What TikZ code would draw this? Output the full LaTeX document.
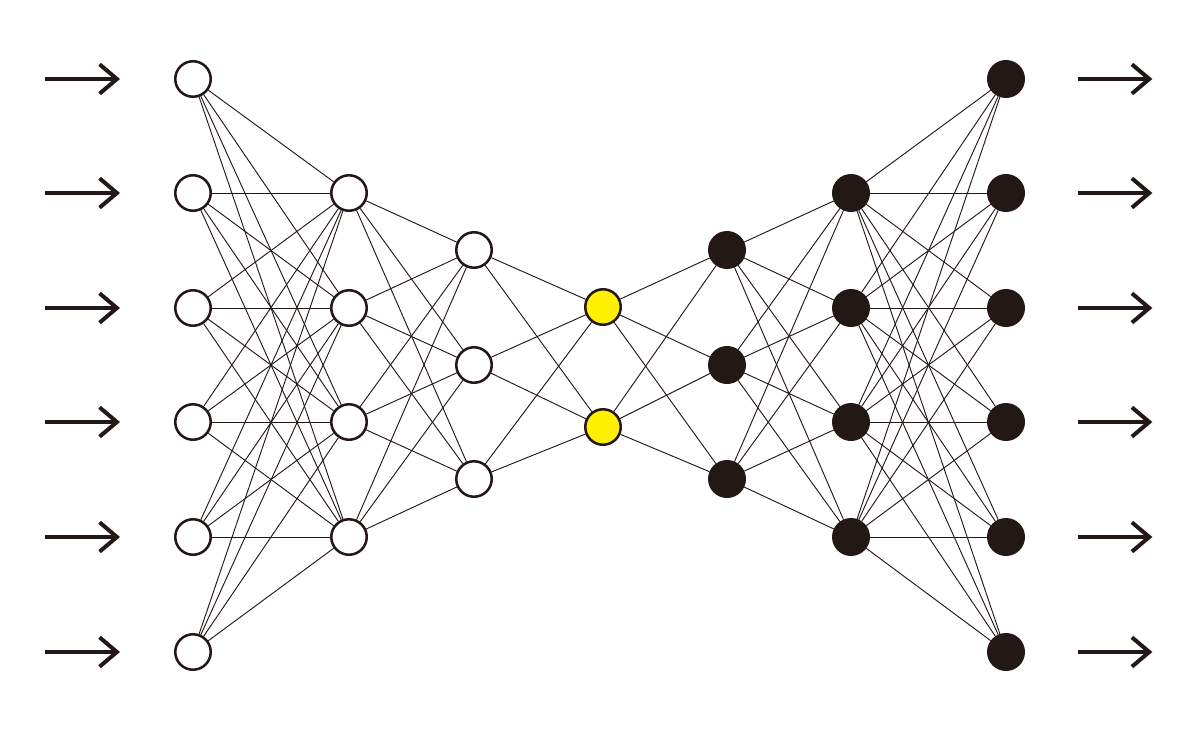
\documentclass[tikz,border=0pt]{standalone}
\usepackage{tikz}
\usetikzlibrary{arrows.meta}
\usetikzlibrary{positioning}

\definecolor{ink}{HTML}{231815}
\definecolor{codeyellow}{HTML}{FFF000}

\begin{document}
\begin{tikzpicture}[
    x=0.75pt, y=-0.75pt,
every node/.style = {inner sep=0pt},
     unit/.style = {circle,draw=ink,line width=1.9pt,minimum size=26.6pt,fill=white},
    dunit/.style = {unit,fill=ink},
    cunit/.style = {unit,fill=codeyellow},
     link/.style = {draw=ink,line width=0.7pt},
    inarr/.style = {draw=ink,line width=3pt,
                    -{Straight Barb[length=13pt,width=22pt,line width=3pt]}}]
\useasboundingbox (0,0) rectangle (1200,732);

% input and output layers
\foreach \i/\y in {1/79,2/193,3/308,4/422,5/537,6/652}{
  \node[unit]  (in\i)  at (193,\y)  {};
  \node[dunit] (out\i) at (1006,\y) {};
}
% encoder
\foreach \i/\y in {1/193,2/308,3/422,4/537}{
  \node[unit]  (ea\i) at (349,\y) {};
  \node[dunit] (db\i) at (851,\y) {};
}
\foreach \i/\y in {1/250,2/365,3/479}{
  \node[unit]  (eb\i) at (474,\y) {};
  \node[dunit] (da\i) at (727,\y) {};
}
% code
\node[cunit] (z1) at (603,307) {};
\node[cunit] (z2) at (603,427) {};

% connections
\foreach \a in {1,...,6}
  \foreach \b in {1,...,4}{
    \path[link] (in\a) -- (ea\b);
    \path[link] (db\b) -- (out\a);
  }
\foreach \a in {1,...,4}
  \foreach \b in {1,...,3}{
    \path[link] (ea\a) -- (eb\b);
    \path[link] (da\b) -- (db\a);
  }
\foreach \a in {1,...,3}
  \foreach \b in {1,2}{
    \path[link] (eb\a) -- (z\b);
    \path[link] (z\b) -- (da\a);
  }

% arrows in and out
\foreach \i in {1,...,6}{
  \coordinate[left=40.5pt of in\i]  (ie\i);
  \coordinate[left=56pt of ie\i]    (is\i);
  \path[inarr] (is\i) -- (ie\i);
  \coordinate[right=39.5pt of out\i] (os\i);
  \coordinate[right=56pt of os\i]    (oe\i);
  \path[inarr] (os\i) -- (oe\i);
}
\end{tikzpicture}
\end{document}
